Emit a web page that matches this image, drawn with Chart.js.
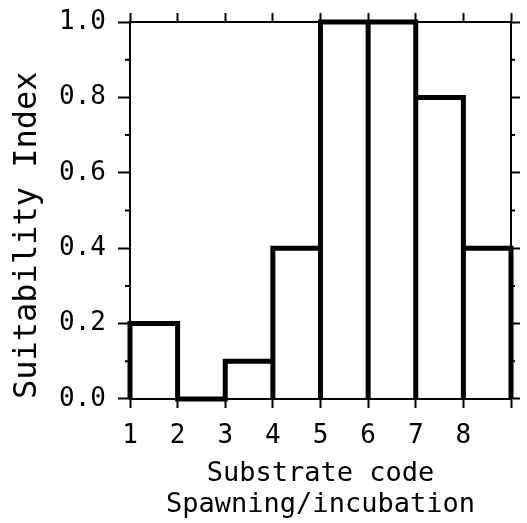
<!DOCTYPE html>
<html>
<head>
<meta charset="utf-8">
<script src="https://cdn.jsdelivr.net/npm/chart.js@4/dist/chart.umd.min.js"></script>
<style>
  body { margin: 0; background: #fff; }
</style>
</head>
<body>
<canvas id="chart" width="527" height="523"></canvas>
<script>
// Substrate code bins (left edge of each bin) and suitability index
const substrateCodes = [1, 2, 3, 4, 5, 6, 7, 8];
const suitability = [0.2, 0.0, 0.1, 0.4, 1.0, 1.0, 0.8, 0.4];
const xTickLabels = ["1", "2", "3", "4", "5", "6", "7", "8", ""];
const yMinorTicks = [0.1, 0.3, 0.5, 0.7, 0.9];

// outline of each bin: up the left side, across the top, down the right side
const outline = [];
substrateCodes.forEach(function (code, i) {
  const v = suitability[i];
  outline.push({ x: code, y: 0 });
  outline.push({ x: code, y: v });
  outline.push({ x: code + 1, y: v });
  outline.push({ x: code + 1, y: 0 });
});

Chart.defaults.font.family = "'DejaVu Sans Mono', monospace";
Chart.defaults.color = "#000";

// small minor tick marks on the left and right y axes
const minorTicks = {
  id: "minorTicks",
  afterDraw(chart) {
    const ctx = chart.ctx;
    const area = chart.chartArea;
    const y = chart.scales.y;
    ctx.save();
    ctx.strokeStyle = "#000";
    ctx.lineWidth = 2;
    yMinorTicks.forEach(function (v) {
      const py = y.getPixelForValue(v);
      ctx.beginPath();
      ctx.moveTo(area.left - 5, py);
      ctx.lineTo(area.left, py);
      ctx.moveTo(area.right, py);
      ctx.lineTo(area.right + 4, py);
      ctx.stroke();
    });
    ctx.restore();
  }
};

const ctx = document.getElementById("chart").getContext("2d");
new Chart(ctx, {
  type: "scatter",
  data: {
    datasets: [{
      data: outline,
      showLine: true,
      borderColor: "#000",
      borderWidth: 5,
      borderJoinStyle: "miter",
      pointRadius: 0,
      clip: false,
    }],
  },
  options: {
    responsive: false,
    animation: false,
    layout: { padding: { top: 13, right: 7, bottom: 2, left: 0 } },
    plugins: { legend: { display: false }, tooltip: { enabled: false } },
    scales: {
      x: {
        type: "linear",
        position: "bottom",
        min: 1,
        max: 9,
        ticks: {
          stepSize: 1,
          padding: 16,
          font: { size: 26, lineHeight: 0.92 },
          maxRotation: 0,
          callback: function (value, index) { return xTickLabels[index]; }
        },
        grid: { drawOnChartArea: false, tickLength: 9, tickColor: "#000", tickWidth: 2 },
        border: { color: "#000", width: 2 },
        title: {
          display: true,
          text: ["Substrate code", "Spawning/incubation"],
          font: { size: 27, lineHeight: 1.15 },
          padding: { top: -5, bottom: 0 }
        }
      },
      xTop: {
        type: "linear",
        position: "top",
        min: 1,
        max: 9,
        ticks: { display: false, stepSize: 1 },
        grid: { drawOnChartArea: false, tickLength: 9, tickColor: "#000", tickWidth: 2 },
        border: { color: "#000", width: 2 }
      },
      y: {
        position: "left",
        min: 0,
        max: 1,
        ticks: {
          stepSize: 0.2,
          padding: 12,
          font: { size: 26, lineHeight: 0.6 },
          callback: function (value) { return value.toFixed(1); }
        },
        grid: { drawOnChartArea: false, tickLength: 12, tickColor: "#000", tickWidth: 2 },
        border: { color: "#000", width: 2 },
        title: {
          display: true,
          text: "Suitability Index",
          align: "start",
          font: { size: 32 },
          padding: { top: 8, bottom: 11 }
        }
      },
      yRight: {
        position: "right",
        min: 0,
        max: 1,
        ticks: { display: false, stepSize: 0.2 },
        grid: { drawOnChartArea: false, tickLength: 9, tickColor: "#000", tickWidth: 2 },
        border: { color: "#000", width: 2 }
      }
    }
  },
  plugins: [minorTicks]
});
</script>
</body>
</html>
